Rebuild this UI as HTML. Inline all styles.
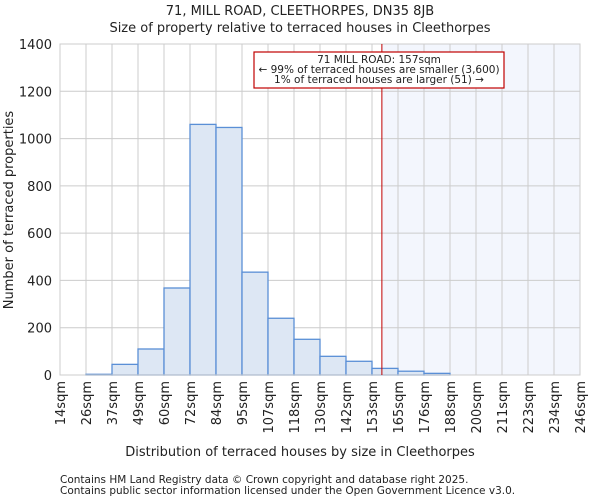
<!DOCTYPE html>
<html><head><meta charset="utf-8"><style>
body{margin:0;background:#fff;font-family:"DejaVu Sans","Liberation Sans",sans-serif}
svg text{font-family:"DejaVu Sans","Liberation Sans",sans-serif;fill:#222}
</style></head><body>
<svg id="c" width="600" height="500"></svg>
<script>
const binLabels=["14sqm","26sqm","37sqm","49sqm","60sqm","72sqm","84sqm","95sqm","107sqm","118sqm","130sqm","142sqm","153sqm","165sqm","176sqm","188sqm","200sqm","211sqm","223sqm","234sqm","246sqm"];
const counts=[0,3,45,110,368,1060,1047,435,240,151,79,58,28,16,7,0,0,0,0,0];
const yTicks=[0,200,400,600,800,1000,1200,1400];
const markerBin=12.38;
const NS="http://www.w3.org/2000/svg";
const svg=document.getElementById('c');
const L=60,R=580,T=44,B=375,yMax=1400;
const bw=(R-L)/counts.length;
const x=i=>L+i*bw, y=v=>B-(v/yMax)*(B-T);
function mk(t,a,p){const e=document.createElementNS(NS,t);for(const k in a)e.setAttribute(k,a[k]);(p||svg).appendChild(e);return e;}
let e;
e=mk('rect',{x:x(markerBin),y:T,width:R-x(markerBin),height:B-T,fill:'#f3f6fd'});


yTicks.forEach(v=>{e=mk('line',{x1:L,x2:R,y1:y(v),y2:y(v),stroke:'#cccccc'});


e=mk('text',{x:L-8,y:y(v)+5,'text-anchor':'end','font-size':13});e.textContent=v;

});
binLabels.forEach((s,i)=>{e=mk('line',{x1:x(i),x2:x(i),y1:T,y2:B,stroke:'#cccccc'});


e=mk('text',{transform:`translate(${x(i)+5},${B+6}) rotate(-90)`,'text-anchor':'end','font-size':13});e.textContent=s;

});
counts.forEach((v,i)=>{if(v<=0)return;e=mk('rect',{x:x(i),y:y(v),width:bw,height:B-y(v),fill:'#dde7f4',stroke:'#5a8fd6','stroke-width':1.3});

});
e=mk('rect',{x:L,y:T,width:R-L,height:B-T,fill:'none',stroke:'#cccccc'});


e=mk('line',{x1:x(markerBin),x2:x(markerBin),y1:T,y2:B,stroke:'#c00000','stroke-width':1});


const g=mk('g',{});


mk('rect',{x:254,y:52,width:250,height:36,fill:'#fff',stroke:'#c00000','stroke-width':1.2},g);
[["71 MILL ROAD: 157sqm",63],["← 99% of terraced houses are smaller (3,600)",73],["1% of terraced houses are larger (51) →",83]].forEach(([t,yy])=>{const q=mk('text',{x:379,y:yy,'text-anchor':'middle','font-size':10.5},g);q.textContent=t;});
e=mk('text',{x:300,y:15,'text-anchor':'middle','font-size':13});e.textContent="71, MILL ROAD, CLEETHORPES, DN35 8JB";


e=mk('text',{x:300,y:32,'text-anchor':'middle','font-size':13});e.textContent="Size of property relative to terraced houses in Cleethorpes";


e=mk('text',{x:300,y:456,'text-anchor':'middle','font-size':13});e.textContent="Distribution of terraced houses by size in Cleethorpes";


e=mk('text',{transform:'translate(13,210) rotate(-90)','text-anchor':'middle','font-size':13});e.textContent="Number of terraced properties";


e=mk('text',{x:60,y:483,'font-size':10.5});e.textContent="Contains HM Land Registry data © Crown copyright and database right 2025.";


e=mk('text',{x:60,y:494,'font-size':10.5});e.textContent="Contains public sector information licensed under the Open Government Licence v3.0.";


</script>
</body></html>
